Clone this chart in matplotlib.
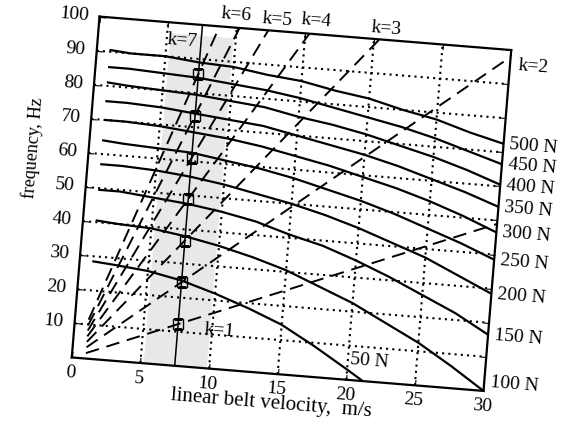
import numpy as np
import matplotlib
matplotlib.use("Agg")
import matplotlib.pyplot as plt
from matplotlib.transforms import Affine2D
import mpl_toolkits.axisartist.floating_axes as floating_axes
from mpl_toolkits.axisartist.grid_finder import FixedLocator, DictFormatter

plt.rcParams['font.family'] = ['Liberation Serif', 'DejaVu Serif']
plt.rcParams['xtick.labelsize'] = 14
plt.rcParams['ytick.labelsize'] = 14

# ---------------- data ----------------
x_ticks = [0, 5, 10, 15, 20, 25, 30]
y_ticks = [10, 20, 30, 40, 50, 60, 70, 80, 90, 100]

velocity = [1, 2.5, 5, 7.5, 10, 12.5, 15, 17.5, 20, 22.5, 25, 27.5, 30]
velocity_50N = [1, 2.5, 5, 7.5, 10, 12.5, 15, 17.5, 20, 21.2]
f_50N = [28.5, 28.0, 27.0, 25.0, 22.0, 18.5, 14.5, 9.0, 3.0, 0.0]
f_100N = [40.5, 40, 39.5, 38, 36, 33.5, 30.5, 26.5, 22.5, 17.5, 12.5, 6.5, 0]
f_150N = [49.5, 49.5, 48.5, 47.5, 46, 44, 41, 38.5, 35, 31, 26.5, 22, 16.5]
f_200N = [57, 57, 56.5, 55.5, 54, 52, 50, 47.5, 44.5, 41, 37.5, 33, 28.5]
f_250N = [64, 63.5, 63, 62.5, 61, 59.5, 57.5, 55, 52.5, 49.5, 46, 42.5, 38.5]
f_300N = [70, 70, 69.5, 68.5, 67.5, 66, 64, 62, 59.5, 57, 54, 50.5, 46.5]
f_350N = [75.5, 75.5, 75, 74, 73, 72, 70, 68, 66, 63.5, 60.5, 57.5, 54]
f_400N = [81, 80.5, 80, 79.5, 78.5, 77.5, 75.5, 74, 72, 69.5, 67, 64, 60.5]
f_450N = [85.5, 85.5, 85, 84.5, 83.5, 82.5, 81, 79, 77, 75, 72.5, 69.5, 66.5]
f_500N = [90.5, 90, 90, 89, 88.5, 87, 86, 84, 82.5, 80, 78, 75, 72.5]
tension_labels = ['100 N', '150 N', '200 N', '250 N', '300 N',
                  '350 N', '400 N', '450 N', '500 N']

# excitation orders (dashed lines): start and end points
k_orders = [1, 2, 3, 4, 5, 6, 7]
k_v_start = [1, 1, 1, 1, 1, 1, 1]
k_f_start = [1.6, 3.3, 4.9, 6.5, 8.2, 9.8, 11.4]
k_v_end = [30, 30, 20.4, 15.3, 12.3, 10.2, 8.75]
k_f_end = [49, 98, 100, 100, 100, 100, 100]

# operating speed and resonance points
v_operating = 7.5
resonance_f = [12.2, 24.5, 36.7, 49.0, 61.1, 73.4, 85.6]
band_v = [5.2, 9.8]
band_f_top = 97

# ---------------- figure ----------------
angle = -4.65
fig = plt.figure(figsize=(5.64, 4.24), dpi=100)
tr = Affine2D().scale(13.77, 3.42).rotate_deg(angle)
grid_helper = floating_axes.GridHelperCurveLinear(
    tr, extremes=(0, 30, 0, 100),
    grid_locator1=FixedLocator(x_ticks),
    grid_locator2=FixedLocator(y_ticks),
    tick_formatter1=DictFormatter({v: str(v) for v in x_ticks}),
    tick_formatter2=DictFormatter({v: str(v) for v in y_ticks}))
ax = fig.add_axes([0.1195, 0.0691, 0.7947, 0.9007],
                  axes_class=floating_axes.FloatingAxes,
                  grid_helper=grid_helper)
aux = ax.get_aux_axes(tr)
aux.patch = ax.patch
ax.patch.zorder = 0.9

ax.grid(True, color='k', linestyle=(0, (1, 2.0)), linewidth=1.5)
for name in ['left', 'right', 'top', 'bottom']:
    a = ax.axis[name]
    a.line.set_linewidth(1.6)
    a.major_ticks.set_ticksize(4)
    a.major_ticks.set_linewidth(1.0)
for name in ['right', 'top']:
    ax.axis[name].major_ticklabels.set_visible(False)
for name in ['left', 'bottom']:
    ax.axis[name].major_ticklabels.set_visible(True)
    ax.axis[name].major_ticklabels.set_size(14)
ax.axis['bottom'].major_ticklabels.set_pad(5)
ax.axis['left'].major_ticklabels.set_pad(8)

# shaded band around operating speed
aux.fill_between(band_v, [0, 0], [band_f_top, band_f_top],
                 color='#e8e8e8', linewidth=0, zorder=0.95)

# natural frequency curves
aux.plot(velocity_50N, f_50N, color='k', lw=1.6, zorder=3)
curves = [f_100N, f_150N, f_200N, f_250N, f_300N,
          f_350N, f_400N, f_450N, f_500N]
for f, lab in zip(curves, tension_labels):
    aux.plot(velocity, f, color='k', lw=1.6, zorder=3)
    aux.text(30.45, max(f[-1], 2.5), lab, fontsize=14, ha='left', va='center',
             rotation=angle, rotation_mode='anchor')
aux.text(20.2, 6.0, '50 N', fontsize=14, ha='left', va='center',
         rotation=angle, rotation_mode='anchor')

# excitation lines
for vs, fs, ve, fe in zip(k_v_start, k_f_start, k_v_end, k_f_end):
    aux.plot([vs, ve], [fs, fe], color='k', lw=1.4,
             linestyle=(0, (7, 4)), zorder=3)

# operating speed line and resonance markers
aux.plot([v_operating, v_operating], [0, 100], color='k', lw=1.1, zorder=3)
aux.plot([v_operating] * len(resonance_f), resonance_f, linestyle='none',
         marker='s', markersize=7, markerfacecolor='none',
         markeredgecolor='k', markeredgewidth=1.0, zorder=4)

# order labels
k_label_pos = [(10.5, 11.3), (30.6, 95.6), (20.8, 103.2), (15.7, 103.9),
               (12.9, 103.3), (9.9, 103.8), (6.1, 95.0)]
for k, (lv, lf) in zip(k_orders, k_label_pos):
    ha = 'left' if k == 2 else 'center'
    aux.text(lv, lf, f'k={k}', fontsize=14, ha=ha, va='center',
             rotation=angle, rotation_mode='anchor', clip_on=False)

# axis titles
aux.text(14.7, -8.8, 'linear belt velocity,  m/s', fontsize=15,
         ha='center', va='center', rotation=angle, rotation_mode='anchor')
aux.text(-4.0, 60.3, 'frequency, Hz', fontsize=13,
         ha='center', va='center', rotation=90 + angle, rotation_mode='anchor')

fig.savefig('out.png', dpi=100)
